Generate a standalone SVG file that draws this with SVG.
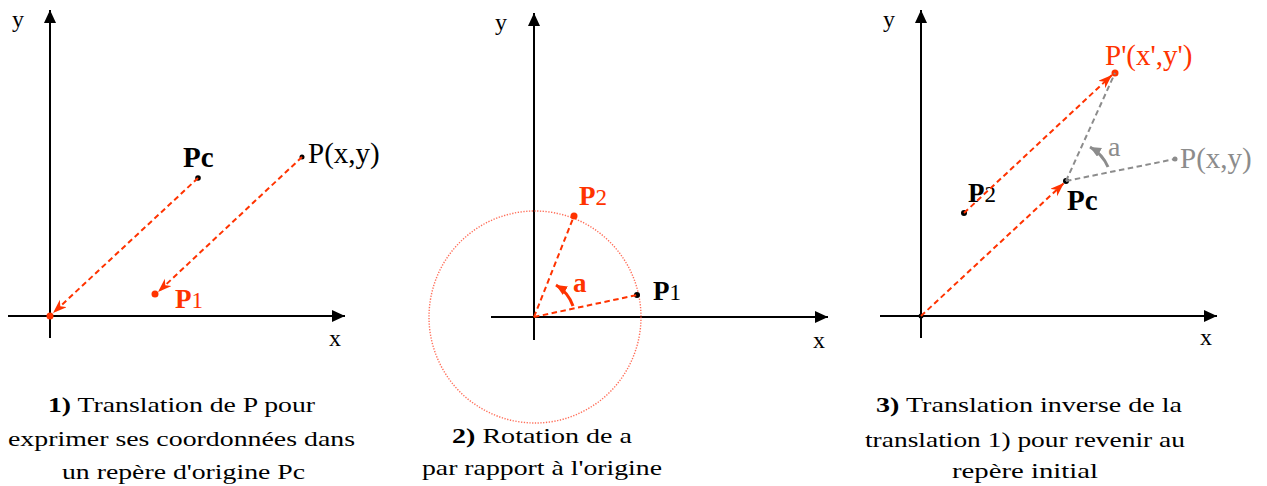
<svg xmlns="http://www.w3.org/2000/svg" width="1267" height="486" viewBox="0 0 1267 486">
<style>
.axis{stroke:#000;stroke-width:2;fill:none}
.rd{stroke:#ff3300;stroke-width:2;stroke-dasharray:5.5 3.5;fill:none}
.gd{stroke:#8c8c8c;stroke-width:2;stroke-dasharray:5.5 3.5;fill:none}
.t{font-family:"Liberation Serif","Times New Roman",serif}
.lab{font-size:24px}
.big{font-size:29px}
.cap{font-size:21px}
.b{font-weight:bold}
.red{fill:#ff3300}
.gray{fill:#8c8c8c}
</style>
<defs>
<marker id="ax" markerUnits="userSpaceOnUse" markerWidth="14" markerHeight="12" refX="13" refY="6" orient="auto"><path d="M0,0 L13,6 L0,12 z" fill="#000"/></marker>
<marker id="rs" markerUnits="userSpaceOnUse" markerWidth="15" markerHeight="11" refX="14" refY="5" orient="auto"><path d="M0,0 L14,5 L0,10 L4,5 z" fill="#ff3300"/></marker>
<marker id="ra" markerUnits="userSpaceOnUse" markerWidth="12" markerHeight="11" refX="11" refY="5" orient="auto"><path d="M0,0 L11,5 L0,10 z" fill="#ff3300"/></marker>
<marker id="ga" markerUnits="userSpaceOnUse" markerWidth="12" markerHeight="11" refX="11" refY="5" orient="auto"><path d="M0,0 L11,5 L0,10 z" fill="#8c8c8c"/></marker>
</defs>

<g id="panel1">
<line class="axis" x1="50" y1="338" x2="50" y2="10" marker-end="url(#ax)"/>
<line class="axis" x1="8" y1="316" x2="345" y2="316" marker-end="url(#ax)"/>
<text class="t lab" x="12" y="27">y</text>
<text class="t lab" x="329" y="346">x</text>
</g>
<g id="p1-Pc"><circle cx="198" cy="178" r="2.8" fill="#000"/><text class="t big b" x="183" y="167">Pc</text></g>
<g id="p1-P"><circle cx="302" cy="157" r="2.5" fill="#000"/><text class="t big" x="308" y="163">P(x,y)</text></g>
<g id="p1-P1"><circle cx="155" cy="294" r="3.5" fill="#ff3300"/><text class="t red" x="175" y="308"><tspan class="b" font-size="27">P</tspan><tspan font-size="23">1</tspan></text></g>
<g id="p1-O"><circle cx="50" cy="316" r="3.5" fill="#ff3300"/></g>

<g id="panel2">
<line class="axis" x1="534" y1="340" x2="534" y2="13" marker-end="url(#ax)"/>
<line class="axis" x1="491" y1="317" x2="828" y2="317" marker-end="url(#ax)"/>
<text class="t lab" x="495" y="30">y</text>
<text class="t lab" x="813" y="348">x</text>
<circle cx="535" cy="317" r="106" fill="none" stroke="#ff4a30" stroke-width="1.4" stroke-dasharray="1.3 1.5" opacity="0.8"/>
</g>
<g id="p2-P2"><circle cx="574" cy="216" r="3.5" fill="#ff3300"/><text class="t red" x="579" y="205"><tspan class="b" font-size="27">P</tspan><tspan font-size="23">2</tspan></text></g>
<g id="p2-P1"><circle cx="637" cy="295" r="3" fill="#000"/><text class="t" x="653" y="300"><tspan class="b" font-size="27">P</tspan><tspan font-size="23">1</tspan></text></g>
<g id="p2-a"><text class="t b red" font-size="27" x="573" y="292">a</text></g>

<g id="panel3">
<line class="axis" x1="921" y1="338" x2="921" y2="10" marker-end="url(#ax)"/>
<line class="axis" x1="880" y1="316" x2="1217" y2="316" marker-end="url(#ax)"/>
<text class="t lab" x="883" y="27">y</text>
<text class="t lab" x="1200" y="345">x</text>
<circle cx="921" cy="316" r="2.5" fill="#000"/>
</g>
<g id="p3-Pp"><circle cx="1115" cy="73" r="3.5" fill="#ff3300"/><text class="t big red" x="1105" y="65">P'(x',y')</text></g>
<g id="p3-P"><circle cx="1175" cy="159" r="2.5" fill="#8c8c8c"/><text class="t big gray" x="1180" y="168">P(x,y)</text></g>
<g id="p3-Pc"><circle cx="1066" cy="181" r="3" fill="#000"/><text class="t big b" x="1067" y="210">Pc</text></g>
<g id="p3-P2"><circle cx="964" cy="213" r="3" fill="#000"/><text class="t" x="968" y="202"><tspan class="b" font-size="27">P</tspan><tspan font-size="23">2</tspan></text></g>
<g id="p3-a"><text class="t gray" font-size="28" x="1108" y="156">a</text></g>

<g id="connectors">
<line class="rd" x1="198" y1="178" x2="53" y2="313" marker-end="url(#rs)"/>
<line class="rd" x1="302" y1="157" x2="158" y2="292" marker-end="url(#rs)"/>
<line class="rd" x1="534" y1="317" x2="637" y2="295"/>
<line class="rd" x1="534" y1="317" x2="574" y2="216"/>
<path d="M573,306 A40 40 0 0 0 556,285" fill="none" stroke="#ff3300" stroke-width="3" marker-end="url(#ra)"/>
<line class="gd" x1="1066" y1="181" x2="1175" y2="159"/>
<line class="gd" x1="1066" y1="181" x2="1115" y2="73"/>
<path d="M1108,167 A42 42 0 0 0 1090,147" fill="none" stroke="#8c8c8c" stroke-width="3" marker-end="url(#ga)"/>
<line class="rd" x1="921" y1="316" x2="1064" y2="183" marker-end="url(#rs)"/>
<line class="rd" x1="964" y1="213" x2="1112" y2="75" marker-end="url(#rs)"/>
</g>

<g id="captions">
<text class="t cap" x="48" y="412" textLength="267" lengthAdjust="spacingAndGlyphs"><tspan class="b">1)</tspan> Translation de P pour</text>
<text class="t cap" x="8" y="446" textLength="347" lengthAdjust="spacingAndGlyphs">exprimer ses coordonnées dans</text>
<text class="t cap" x="62" y="479" textLength="243" lengthAdjust="spacingAndGlyphs">un repère d'origine Pc</text>
<text class="t cap" x="452" y="443" textLength="180" lengthAdjust="spacingAndGlyphs"><tspan class="b">2)</tspan> Rotation de a</text>
<text class="t cap" x="422" y="475" textLength="240" lengthAdjust="spacingAndGlyphs">par rapport à l'origine</text>
<text class="t cap" x="876" y="412" textLength="306" lengthAdjust="spacingAndGlyphs"><tspan class="b">3)</tspan> Translation inverse de la</text>
<text class="t cap" x="865" y="447" textLength="320" lengthAdjust="spacingAndGlyphs">translation 1) pour revenir au</text>
<text class="t cap" x="952" y="478" textLength="146" lengthAdjust="spacingAndGlyphs">repère initial</text>
</g>
</svg>
